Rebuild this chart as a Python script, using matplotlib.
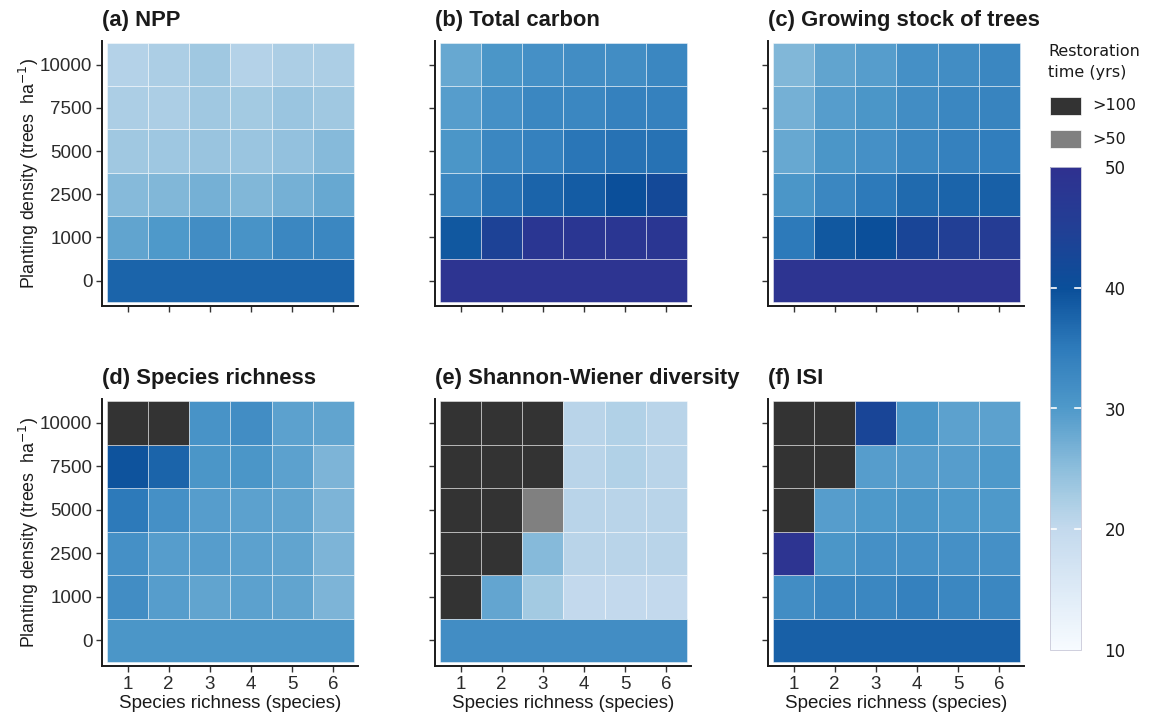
import numpy as np
import matplotlib
matplotlib.use("Agg")
import matplotlib.pyplot as plt
from matplotlib.colors import LinearSegmentedColormap, Normalize
from matplotlib.patches import Rectangle
import matplotlib.cm as cm

plt.rcParams['font.family'] = ['Liberation Sans', 'DejaVu Sans']

# ---------------- data ----------------
richness = [1, 2, 3, 4, 5, 6]
density_labels = ["0", "1000", "2500", "5000", "7500", "10000"]
titles = ["(a) NPP", "(b) Total carbon", "(c) Growing stock of trees",
          "(d) Species richness", "(e) Shannon-Wiener diversity", "(f) ISI"]

# restoration time (yrs); rows: 1000, 2500, 5000, 7500, 10000 ; ">100" / ">50" categories
npp_zero = 37.5
npp = [[28.5, 30, 32, 31, 33, 33],
       [25.5, 26, 27, 26, 27, 28],
       [23.3, 23.5, 24, 23.8, 24.4, 25.5],
       [22.3, 22.3, 23.3, 23, 23.8, 23.3],
       [21.5, 22.3, 23.3, 21.5, 22.3, 22.3]]

carbon_zero = 49
carbon = [[39, 44, 48, 48, 48, 48],
          [33, 36, 37.5, 38.5, 40, 42],
          [30.5, 33, 34, 35.5, 36, 36],
          [29.5, 31.5, 33, 33, 34, 34],
          [28, 30.5, 31.5, 32, 32, 33]]

stock_zero = 49
stock = [[35, 39, 40, 43, 45, 46],
         [30.5, 33, 35, 37, 37.5, 38],
         [28, 30.5, 31.5, 33, 34, 34.5],
         [27, 29.5, 30.5, 32, 33, 33.5],
         [26, 28.5, 29.5, 31.5, 32, 33]]

rich_zero = 30.5
rich = [[32, 29.5, 28.5, 29, 28.5, 26.3],
        [31.5, 29.5, 29.5, 29, 28.5, 26.3],
        [35, 31.5, 29.5, 29, 28.5, 26.3],
        [39.5, 37.5, 30.5, 30.5, 29, 26.3],
        [">100", ">100", 31, 32, 29, 28.5]]

shannon_zero = 32
shannon = [[">100", 28.3, 23, 20, 20, 20],
           [">100", ">100", 25.5, 21, 21, 21],
           [">100", ">100", ">50", 21, 21, 21],
           [">100", ">100", ">100", 21, 21.8, 21],
           [">100", ">100", ">100", 21, 21.8, 21]]

isi_zero = 38
isi = [[32, 33, 33, 34, 33, 33],
       [49, 30.5, 31.5, 31.5, 31.5, 31.5],
       [">100", 29.5, 30, 30.5, 30, 30],
       [">100", ">100", 29.5, 29.5, 29.5, 30],
       [">100", ">100", 43, 30.5, 29, 29]]

zeros = [npp_zero, carbon_zero, stock_zero, rich_zero, shannon_zero, isi_zero]
grids = [npp, carbon, stock, rich, shannon, isi]

# ---------------- style ----------------
W, H = 1156, 717
cmap = LinearSegmentedColormap.from_list("rest", [
    (0.0, "#f7fbff"), (0.25, "#c3d9ed"), (0.3125, "#a9cde4"),
    (0.375, "#8dbedc"), (0.5, "#4f99ca"), (0.625, "#2e7bbb"),
    (0.75, "#0a4f9a"), (0.875, "#223f95"), (1.0, "#2f3190")])
norm = Normalize(10, 50)
cat_colors = {">100": "#333333", ">50": "#808080"}
edge = (1, 1, 1, 0.45)


def color_of(v):
    if isinstance(v, str):
        return cat_colors[v]
    return cmap(norm(v))


fig = plt.figure(figsize=(W / 100, H / 100), dpi=100)


def fax(l, t, r, b):
    return [l / W, 1 - b / H, (r - l) / W, (b - t) / H]


lefts = [102, 435, 768]
tops = [(41, 306), (399, 666)]
axes = []
for i in range(6):
    row, col = divmod(i, 3)
    l = lefts[col]
    t, b = tops[row]
    ax = fig.add_axes(fax(l, t, l + 256, b))
    axes.append(ax)
    grid = grids[i]
    for r, vals in enumerate(grid):
        ax.bar(richness, 1, width=1, bottom=r + 1.5,
               color=[color_of(v) for v in vals],
               edgecolor=edge, linewidth=0.7)
    ax.bar(np.mean(richness), 1, width=len(richness), bottom=0.5,
           color=color_of(zeros[i]), edgecolor=edge, linewidth=0.7)
    ax.set_xlim(0.38, 6.6)
    ax.set_ylim(0.41, 6.55)
    ax.set_yticks(range(1, 7))
    ax.set_xticks(richness)
    for s in ["top", "right"]:
        ax.spines[s].set_visible(False)
    for s in ["left", "bottom"]:
        ax.spines[s].set_linewidth(1.4)
        ax.spines[s].set_color("#1a1a1a")
    ax.tick_params(axis="both", length=4, width=1.0, color="#333333",
                   labelsize=13.5, labelcolor="#2b2b2b", pad=3)
    if col == 0:
        ax.set_yticklabels(density_labels)
        ax.set_ylabel("Planting density (trees  ha$^{-1}$)", fontsize=12.8,
                      color="#1a1a1a", labelpad=-1)
    else:
        ax.set_yticklabels([])
    if row == 1:
        ax.set_xticklabels([str(x) for x in richness])
        ax.set_xlabel("Species richness (species)", fontsize=13.5,
                      color="#1a1a1a", labelpad=2)
    else:
        ax.set_xticklabels([])
    ax.set_title(titles[i], loc="left", fontsize=15.8, fontweight="bold",
                 color="#1a1a1a", pad=11, x=0.0)

# ---------------- legend ----------------
lfam = ["DejaVu Sans"]
fig.text(1048 / W, 1 - 62 / H, "Restoration\ntime (yrs)", fontsize=11.5,
         va="center", ha="left", color="#1a1a1a", linespacing=1.55, family=lfam)
for lab, y0 in [(">100", 97), (">50", 130)]:
    fig.add_artist(Rectangle((1050 / W, 1 - (y0 + 18) / H), 31 / W, 18 / H,
                             transform=fig.transFigure,
                             facecolor=cat_colors[lab], edgecolor="white", lw=0.5))
    fig.text(1092 / W, 1 - (y0 + 9) / H, lab, fontsize=11.5, va="center",
             ha="left", color="#1a1a1a", family=lfam)

cax = fig.add_axes(fax(1050, 167, 1081, 650))
sm = cm.ScalarMappable(norm=norm, cmap=cmap)
cb = fig.colorbar(sm, cax=cax, ticks=[10, 20, 30, 40, 50])
cb.outline.set_edgecolor("#c8c8d8")
cb.outline.set_linewidth(0.6)
cax.tick_params(length=0, labelsize=12, labelcolor="#1a1a1a", pad=17)
for lbl in cax.get_yticklabels():
    lbl.set_family(lfam)
for t in [20, 30, 40]:
    cax.plot([0, 0.2], [t, t], color="white", lw=1.2, transform=cax.get_yaxis_transform())
    cax.plot([0.8, 1.0], [t, t], color="white", lw=1.2, transform=cax.get_yaxis_transform())

fig.savefig("out.png", dpi=100, facecolor="white")
